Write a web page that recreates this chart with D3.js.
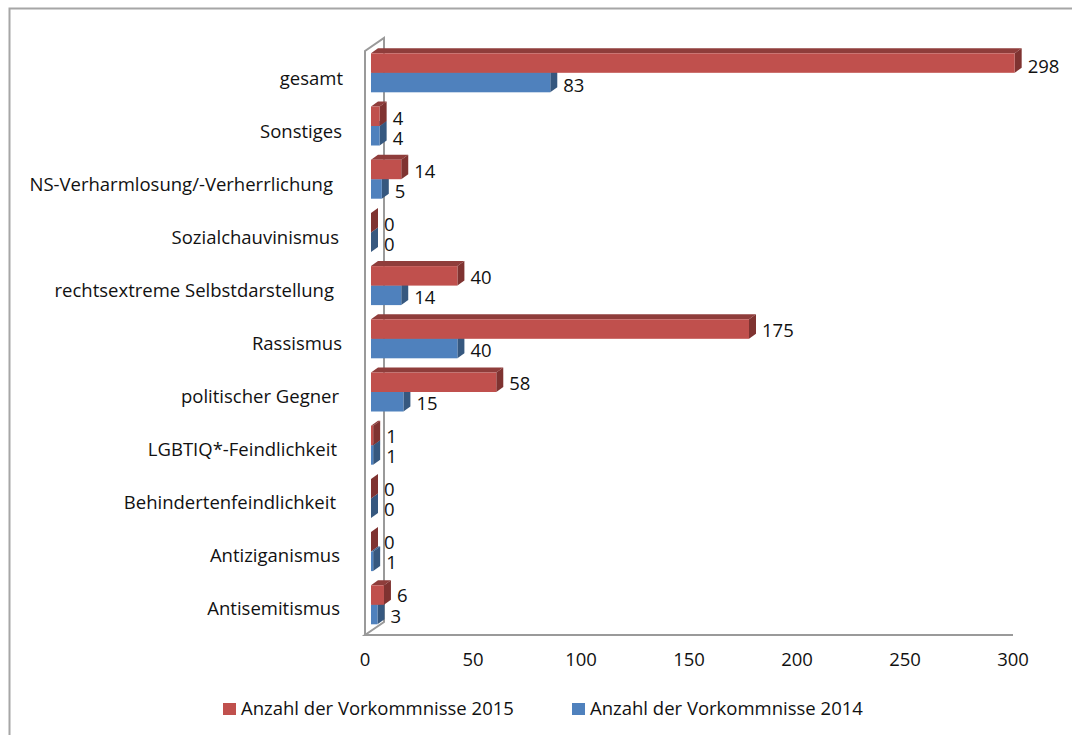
<!DOCTYPE html>
<html>
<head>
<meta charset="utf-8">
<script src="https://cdn.jsdelivr.net/npm/d3@7/dist/d3.min.js"></script>
<style>
html,body{margin:0;padding:0;background:#fff;}
svg{display:block;}
text{font-family:"Open Sans",sans-serif;fill:#111;}
</style>
</head>
<body>
<svg id="chart" width="1072" height="735"></svg>
<script>
// Reported incidents per category, listed from the top row downwards
const categories = ["gesamt","Sonstiges","NS-Verharmlosung/-Verherrlichung","Sozialchauvinismus","rechtsextreme Selbstdarstellung","Rassismus","politischer Gegner","LGBTIQ*-Feindlichkeit","Behindertenfeindlichkeit","Antiziganismus","Antisemitismus"];
const values2015 = [298,4,14,0,40,175,58,1,0,0,6];
const values2014 = [83,4,5,0,14,40,15,1,0,1,3];
const seriesNames = ["Anzahl der Vorkommnisse 2015","Anzahl der Vorkommnisse 2014"];
const xTicks = [0,50,100,150,200,250,300];
// Category labels keep differing amounts of trailing space
const labelTrail = [0,1,10,4,9,1,4,6,7,3,3];

const svg = d3.select("#chart");
const depthX = 19, depthY = 13;        // wall depth of the 3D frame
const barDepthX = 7, barDepthY = 5;    // extrusion of each bar
const barInset = 6;                    // bars sit slightly behind the front plane

const x = d3.scaleLinear().domain([0,300]).range([365,1013]);
const band = d3.scaleBand().domain(categories).range([46.2,631.4]);
// Text rows run on a slightly tighter pitch than the bars
const categoryY = d3.scalePoint().domain(categories).range([85,615]);
const label2015Y = d3.scalePoint().domain(categories).range([65,594]);
const label2014Y = d3.scalePoint().domain(categories).range([84,615]);
const halfBar = 19.5;
const FONT = 18.5;

// Outer frame, clipped by the canvas on the right and bottom
svg.append("path").attr("d","M9.5,735V8.5H1072").attr("fill","none").attr("stroke","#a6a6a6").attr("stroke-width",2);

// 3D wall and floor lines
const wallColor = "#9a9a9a";
const frame = svg.append("g").attr("fill","none").attr("stroke",wallColor).attr("stroke-width",2);
const yFloor = 635, yWallTop = 51;
frame.append("path").attr("d",`M${x(0)},${yFloor}V${yWallTop}L${x(0)+depthX},${yWallTop-depthY}V${yFloor-depthY}L${x(0)},${yFloor}H${x(300)}`);

// One extruded bar: top, side and front faces
function drawBar(g, value, yTop, yBottom, front, top, side) {
  const x0 = x(0)+barInset, x1 = x(value)+barInset;
  g.append("polygon").attr("fill",top)
    .attr("points",[[x0,yTop],[x0+barDepthX,yTop-barDepthY],[x1+barDepthX,yTop-barDepthY],[x1,yTop]].join(" "));
  g.append("polygon").attr("fill",side)
    .attr("points",[[x1,yTop],[x1+barDepthX,yTop-barDepthY],[x1+barDepthX,yBottom-barDepthY],[x1,yBottom]].join(" "));
  g.append("rect").attr("x",x0).attr("y",yTop).attr("width",x1-x0).attr("height",yBottom-yTop).attr("fill",front);
}

const colors = {
  y2015:{front:"#c0504d",top:"#8f3d3b",side:"#7f3331"},
  y2014:{front:"#4f81bd",top:"#3c618e",side:"#36587f"}
};

categories.forEach((c,i)=>{
  const mid = band(c)+band.bandwidth()/2;
  const g = svg.append("g");
  drawBar(g, values2014[i], mid, mid+halfBar, colors.y2014.front, colors.y2014.top, colors.y2014.side);
  drawBar(g, values2015[i], mid-halfBar, mid, colors.y2015.front, colors.y2015.top, colors.y2015.side);

  g.append("text").attr("x",x(values2015[i])+barInset+barDepthX+6).attr("y",label2015Y(c))
    .attr("dominant-baseline","central").attr("font-size",FONT).text(values2015[i]);
  g.append("text").attr("x",x(values2014[i])+barInset+barDepthX+6).attr("y",label2014Y(c))
    .attr("dominant-baseline","central").attr("font-size",FONT).text(values2014[i]);

  svg.append("text").attr("x",343-labelTrail[i]).attr("y",categoryY(c))
    .attr("text-anchor","end").attr("font-size",FONT).text(c);
});

// Value axis labels
xTicks.forEach(t=>{
  svg.append("text").attr("x",x(t)).attr("y",666).attr("text-anchor","middle").attr("font-size",FONT).text(t);
});

// Legend
const legendX = [223,572];
seriesNames.forEach((name,i)=>{
  const col = i===0?colors.y2015.front:colors.y2014.front;
  svg.append("rect").attr("x",legendX[i]).attr("y",703).attr("width",13).attr("height",12).attr("fill",col);
  svg.append("text").attr("x",legendX[i]+18).attr("y",714.5).attr("font-size",FONT).text(name);
});
</script>
</body>
</html>
